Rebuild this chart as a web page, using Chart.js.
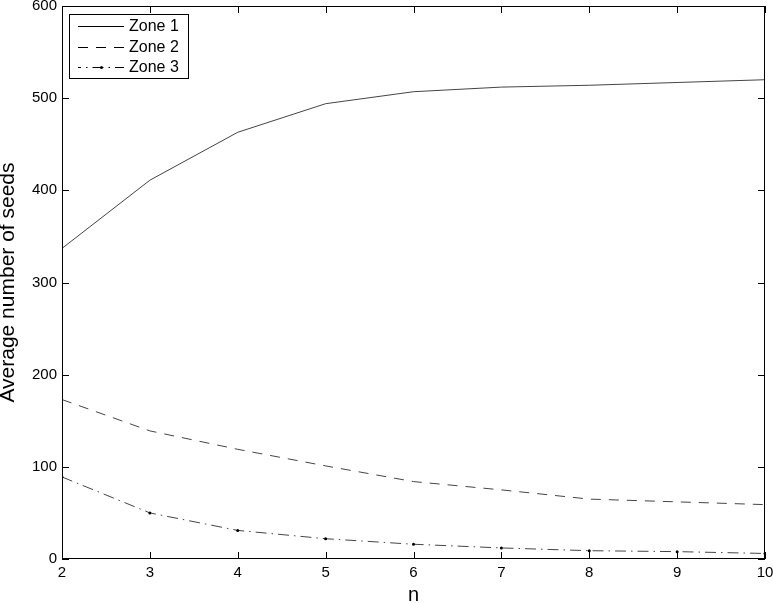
<!DOCTYPE html>
<html>
<head>
<meta charset="utf-8">
<script src="https://cdn.jsdelivr.net/npm/chart.js@4/dist/chart.umd.min.js"></script>
<style>
  html, body { margin: 0; padding: 0; background: #fff; }
  #wrap { width: 773px; height: 603px; }
</style>
</head>
<body>
<div id="wrap"><canvas id="chart" width="773" height="603"></canvas></div>
<script>
// dados
const nValues = [2, 3, 4, 5, 6, 7, 8, 9, 10];
const zone1 = [337, 411, 463, 494, 507, 512, 514, 517, 520];
const zone2 = [173, 139, 119, 101, 84, 75, 65, 62, 59];
const zone3 = [89, 50, 31, 22, 16, 12, 9, 8, 6];
const seriesNames = ['Zone 1', 'Zone 2', 'Zone 3'];

const FONT = '"Liberation Sans", Arial, Helvetica, sans-serif';

const toPoints = values => values.map((v, i) => ({ x: nValues[i], y: v }));

// caixa, ticks para dentro e legenda no estilo MATLAB
const matlabBox = {
  id: 'matlabBox',
  afterDraw(chart) {
    const { ctx, chartArea: a, scales: { x, y } } = chart;
    ctx.save();
    ctx.strokeStyle = '#000';
    ctx.lineWidth = 1;
    ctx.setLineDash([]);
    ctx.strokeRect(a.left + 0.5, a.top + 0.5, a.width - 1, a.height - 1);

    const len = 7;
    ctx.beginPath();
    x.ticks.forEach(t => {
      const px = Math.round(x.getPixelForValue(t.value)) + 0.5;
      ctx.moveTo(px, a.bottom); ctx.lineTo(px, a.bottom - len);
      ctx.moveTo(px, a.top);    ctx.lineTo(px, a.top + len);
    });
    y.ticks.forEach(t => {
      const py = Math.round(y.getPixelForValue(t.value)) + 0.5;
      ctx.moveTo(a.left, py);  ctx.lineTo(a.left + len, py);
      ctx.moveTo(a.right, py); ctx.lineTo(a.right - len, py);
    });
    ctx.stroke();

    // legenda
    const lx = 69.5, ly = 14.5, lw = 119, lh = 64;
    ctx.fillStyle = '#fff';
    ctx.fillRect(lx, ly, lw, lh);
    ctx.strokeRect(lx, ly, lw, lh);
    ctx.font = '16px ' + FONT;
    ctx.textBaseline = 'middle';
    ctx.textAlign = 'left';
    chart.data.datasets.forEach((ds, i) => {
      const cy = 26 + i * 20.5;
      ctx.strokeStyle = '#000';
      ctx.setLineDash(ds.borderDash || []);
      ctx.lineDashOffset = i === 2 ? 8 : 0;
      ctx.beginPath();
      ctx.moveTo(78, Math.round(cy) + 0.5);
      ctx.lineTo(124, Math.round(cy) + 0.5);
      ctx.stroke();
      ctx.setLineDash([]);
      if (ds.pointRadius > 0) {
        ctx.fillStyle = '#000';
        ctx.beginPath();
        ctx.arc(101.5, Math.round(cy) + 0.5, 1.5, 0, Math.PI * 2);
        ctx.fill();
      }
      ctx.fillStyle = '#000';
      ctx.fillText(ds.label, 129, cy + 1);
    });
    ctx.restore();
  }
};

new Chart(document.getElementById('chart'), {
  type: 'line',
  data: {
    datasets: [
      {
        label: seriesNames[0],
        data: toPoints(zone1),
        borderColor: '#444',
        borderWidth: 1,
        pointRadius: 0
      },
      {
        label: seriesNames[1],
        data: toPoints(zone2),
        borderColor: '#444',
        borderWidth: 1,
        borderDash: [10, 8],
        pointRadius: 0
      },
      {
        label: seriesNames[2],
        data: toPoints(zone3),
        borderColor: '#444',
        borderWidth: 1,
        borderDash: [11, 5, 1.5, 5],
        pointRadius: 1.5,
        pointBorderWidth: 0,
        pointBackgroundColor: '#000'
      }
    ]
  },
  options: {
    responsive: false,
    animation: false,
    layout: { padding: { left: 0, right: 8, top: 6, bottom: 0 } },
    plugins: { legend: { display: false }, tooltip: { enabled: false } },
    scales: {
      x: {
        type: 'linear',
        min: 2,
        max: 10,
        grid: { display: false, drawTicks: false },
        border: { display: false },
        ticks: {
          stepSize: 1,
          color: '#000',
          padding: 5,
          maxRotation: 0,
          font: { family: FONT, size: 15, lineHeight: 1.2 }
        },
        title: {
          display: true,
          text: 'n',
          color: '#000',
          padding: { top: 0, bottom: -2 },
          font: { family: FONT, size: 20, lineHeight: 1 }
        },
        afterFit: s => { s.height = 44; s.paddingLeft = 0; s.paddingRight = 0; }
      },
      y: {
        min: 0,
        max: 600,
        grid: { display: false, drawTicks: false },
        border: { display: false },
        ticks: {
          stepSize: 100,
          color: '#000',
          padding: 5,
          font: { family: FONT, size: 15, lineHeight: 1.2 }
        },
        title: {
          display: true,
          text: 'Average number of seeds',
          color: '#000',
          padding: { top: -2, bottom: 0 },
          font: { family: FONT, size: 21, lineHeight: 1 }
        },
        afterFit: s => { s.width = 62; s.paddingTop = 0; s.paddingBottom = 0; }
      }
    }
  },
  plugins: [matlabBox]
});
</script>
</body>
</html>
